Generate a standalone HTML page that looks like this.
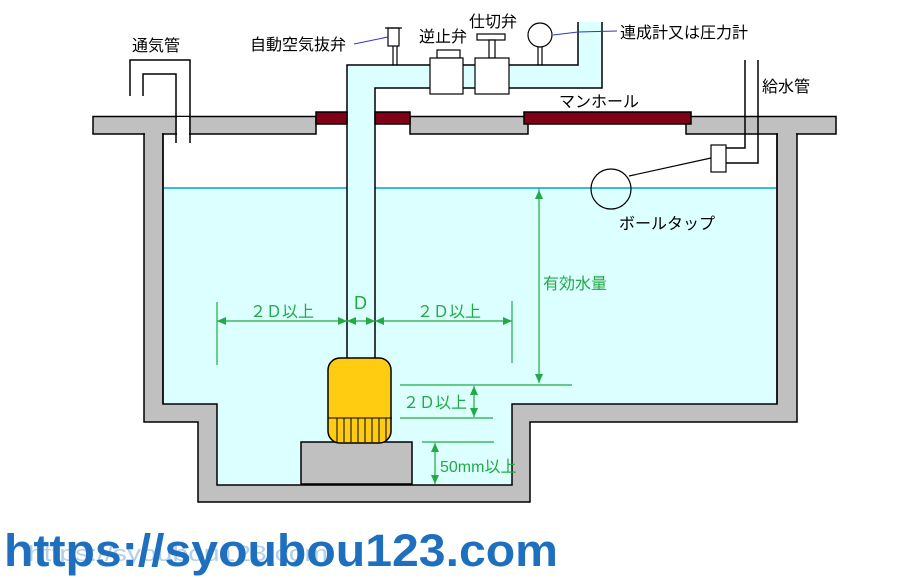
<!DOCTYPE html>
<html><head><meta charset="utf-8"><style>
html,body{margin:0;padding:0;background:#fff;}
svg{display:block;}
text{font-family:"Liberation Sans","Noto Sans CJK JP",sans-serif;}
</style></head><body>
<svg width="901" height="578" viewBox="0 0 901 578" xmlns="http://www.w3.org/2000/svg">
<path d="M93,116.5 H316 V134 H93 Z" fill="#c0c0c0" stroke="#000" stroke-width="1.5"/>
<path d="M410,116.5 H528 V134 H410 Z" fill="#c0c0c0" stroke="#000" stroke-width="1.5"/>
<path d="M686,116.5 H836 V134 H686 Z" fill="#c0c0c0" stroke="#000" stroke-width="1.5"/>
<path d="M144,134 H163 V404 H217 V485 H512 V404 H777 V134 H797 V422 H530 V502 H198 V422 H144 Z" fill="#c0c0c0" stroke="#000" stroke-width="1.5"/>
<rect x="145" y="117.5" width="17" height="18" fill="#c0c0c0"/>
<rect x="778" y="117.5" width="18" height="18" fill="#c0c0c0"/>
<line x1="163" y1="134" x2="163" y2="404" stroke="#000" stroke-width="1.5"/>
<line x1="777" y1="134" x2="777" y2="404" stroke="#000" stroke-width="1.5"/>
<path d="M164,188 H776 V403 H511 V484 H218 V403 H164 Z" fill="#dcffff"/>
<line x1="164" y1="188" x2="776" y2="188" stroke="#00a0e0" stroke-width="1.5"/>
<rect x="177" y="117" width="12" height="26" fill="#fff"/>
<path d="M130,96 V60 H190 V143" fill="none" stroke="#000" stroke-width="1.5"/>
<path d="M143,96 V74 H176 V143" fill="none" stroke="#000" stroke-width="1.5"/>
<path d="M347,358 V65 H578 V22 H602 V88 H375 V358 Z" fill="#dcffff"/>
<path d="M347,358 V65 H578 V22" fill="none" stroke="#000" stroke-width="1.5"/>
<path d="M375,358 V88 H602 V22" fill="none" stroke="#000" stroke-width="1.5"/>
<rect x="316" y="112" width="31" height="12" fill="#800018" stroke="#000" stroke-width="1.5"/>
<rect x="375" y="112" width="35" height="12" fill="#800018" stroke="#000" stroke-width="1.5"/>
<rect x="524" y="112" width="167" height="12" fill="#800018" stroke="#000" stroke-width="1.5"/>
<rect x="388" y="28" width="11" height="18" fill="#fff" stroke="#000" stroke-width="1.2"/>
<line x1="385" y1="28" x2="402" y2="28" stroke="#000" stroke-width="1.2"/>
<line x1="393" y1="46" x2="393" y2="65" stroke="#000" stroke-width="1.2"/>
<line x1="397" y1="46" x2="397" y2="65" stroke="#000" stroke-width="1.2"/>
<line x1="354" y1="44" x2="388" y2="37" stroke="#3333cc" stroke-width="1"/>
<rect x="437" y="50" width="23" height="8" fill="#fff" stroke="#000" stroke-width="1.2"/>
<rect x="430" y="58" width="33" height="36" fill="#fff" stroke="#000" stroke-width="1.2"/>
<rect x="477" y="34" width="28" height="6" fill="#fff" stroke="#000" stroke-width="1.2"/>
<rect x="489" y="40" width="6" height="18" fill="#fff" stroke="#000" stroke-width="1.2"/>
<rect x="475" y="58" width="34" height="36" fill="#fff" stroke="#000" stroke-width="1.2"/>
<line x1="538" y1="47" x2="538" y2="65" stroke="#000" stroke-width="1.2"/>
<line x1="542" y1="47" x2="542" y2="65" stroke="#000" stroke-width="1.2"/>
<circle cx="540" cy="35" r="12" fill="#fff" stroke="#000" stroke-width="1.2"/>
<polyline points="553,35 578,32 617,31" fill="none" stroke="#3333cc" stroke-width="1"/>
<path d="M745,60 V148 H726" fill="none" stroke="#000" stroke-width="1.5"/>
<path d="M758,60 V163 H726" fill="none" stroke="#000" stroke-width="1.5"/>
<rect x="711" y="145" width="15" height="27" fill="#fff" stroke="#000" stroke-width="1.2"/>
<line x1="629" y1="176" x2="711" y2="158" stroke="#000" stroke-width="1.2"/>
<circle cx="611" cy="189" r="20" fill="none" stroke="#000" stroke-width="1.2"/>
<rect x="301" y="442" width="111" height="42" fill="#c0c0c0" stroke="#000" stroke-width="1.5"/>
<rect x="328" y="358" width="63" height="85" rx="12" fill="#ffcc11" stroke="#000" stroke-width="1.5"/>
<line x1="328" y1="418" x2="392" y2="418" stroke="#000" stroke-width="1"/>
<g stroke="#000" stroke-width="1">
<line x1="337" y1="418" x2="337" y2="442"/><line x1="344" y1="418" x2="344" y2="442"/><line x1="351" y1="418" x2="351" y2="442"/><line x1="358" y1="418" x2="358" y2="442"/><line x1="365" y1="418" x2="365" y2="442"/><line x1="372" y1="418" x2="372" y2="442"/><line x1="379" y1="418" x2="379" y2="442"/><line x1="386" y1="418" x2="386" y2="442"/>
</g>
<g stroke="#22aa44" stroke-width="1.2" fill="none">
<line x1="217" y1="302" x2="217" y2="365"/>
<line x1="512" y1="301" x2="512" y2="363"/>
<line x1="217" y1="321" x2="512" y2="321"/>
<line x1="539" y1="188" x2="539" y2="383"/>
<line x1="400" y1="385" x2="572" y2="385"/>
<line x1="400" y1="418" x2="493" y2="418"/>
<line x1="474" y1="386" x2="474" y2="417"/>
<line x1="422" y1="442" x2="494" y2="442"/>
<line x1="435" y1="443" x2="435" y2="484"/>
</g>
<g fill="#22aa44">
<polygon points="217,321 226,317 226,325"/><polygon points="347,321 338,317 338,325"/>
<polygon points="347,321 356,317 356,325"/><polygon points="375,321 366,317 366,325"/>
<polygon points="375,321 384,317 384,325"/><polygon points="512,321 503,317 503,325"/>
<polygon points="539,190 535,199 543,199"/><polygon points="539,383 535,374 543,374"/>
<polygon points="474,386 470,395 478,395"/><polygon points="474,417 470,408 478,408"/>
<polygon points="435,443 431,452 439,452"/><polygon points="435,484 431,475 439,475"/>
</g>
<g font-size="16" fill="#22aa44">
<text x="250" y="317">２Ｄ以上</text>
<text x="354" y="309" font-size="18">D</text>
<text x="417" y="317">２Ｄ以上</text>
<text x="543" y="289">有効水量</text>
<text x="403" y="408">２Ｄ以上</text>
<text x="440" y="472">50mm以上</text>
</g>
<g font-size="16" fill="#000">
<text x="132" y="51">通気管</text>
<text x="250" y="50">自動空気抜弁</text>
<text x="419" y="42">逆止弁</text>
<text x="469" y="27">仕切弁</text>
<text x="620" y="38">連成計又は圧力計</text>
<text x="762" y="92">給水管</text>
<text x="559" y="107">マンホール</text>
<text x="619" y="229">ボールタップ</text>
</g>
<text x="28" y="561" font-size="22" fill="#b4cfea" textLength="300" lengthAdjust="spacingAndGlyphs">https://syoubou123.com</text>
<text x="4" y="566" font-size="45" font-weight="bold" fill="#1f6fbf" textLength="554" lengthAdjust="spacingAndGlyphs">https://syoubou123.com</text>
</svg>
</body></html>
